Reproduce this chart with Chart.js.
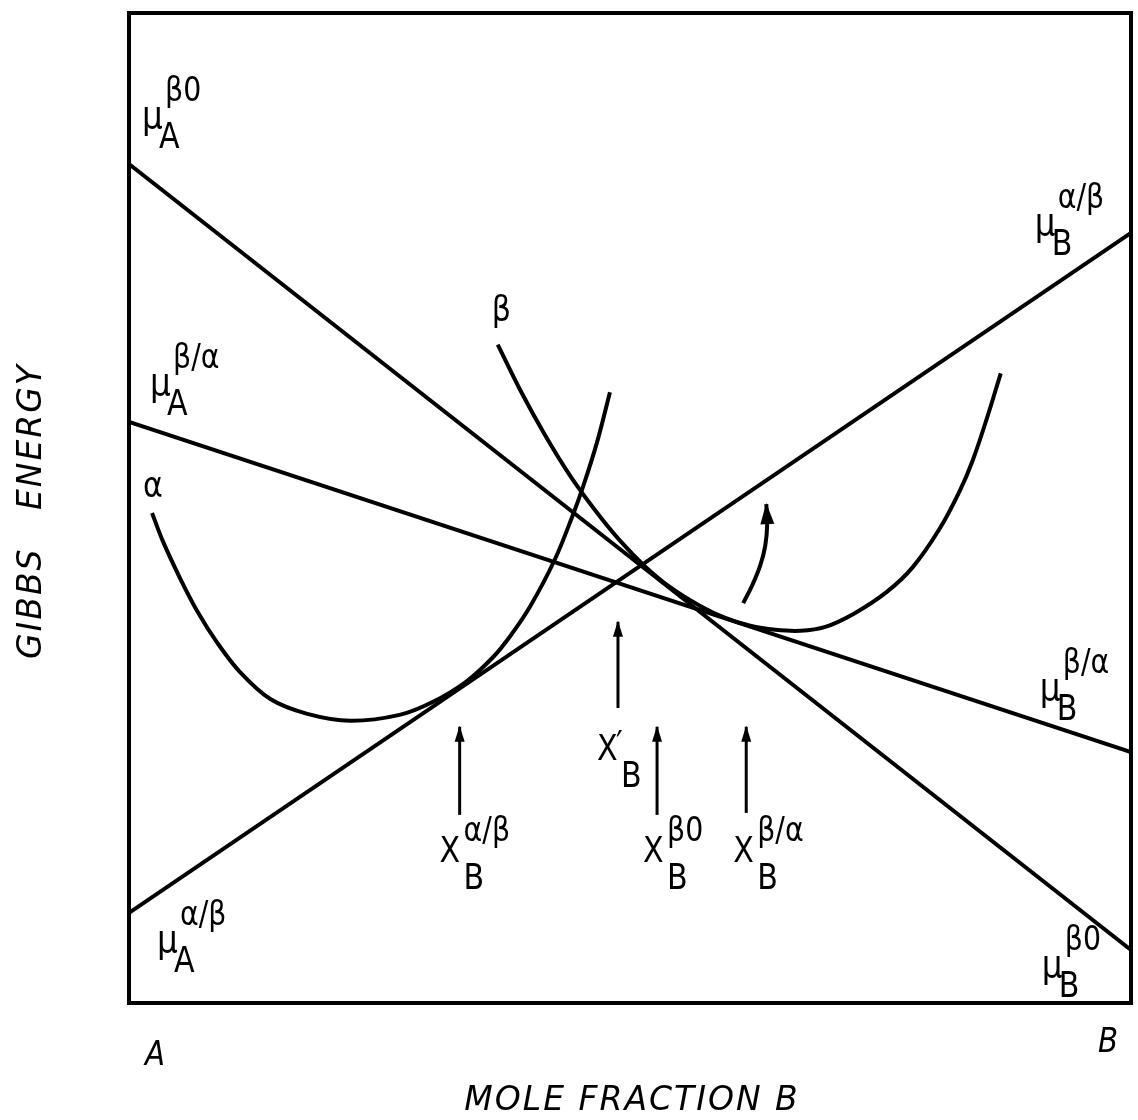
<!DOCTYPE html>
<html lang="en">
<head>
<meta charset="UTF-8">
<title>Gibbs energy - composition</title>
<script src="https://cdn.jsdelivr.net/npm/chart.js"></script>
<style>
  html, body { margin: 0; padding: 0; background: #fff; }
  .chart-container { position: relative; width: 1138px; height: 1120px; }
</style>
</head>
<body>
<div class="chart-container"><canvas id="gibbs"></canvas></div>
<script>
// x = mole fraction of B (0 = pure A, 1 = pure B), g = Gibbs energy (arbitrary units)

// alpha phase free-energy curve
const alphaX = [0.023, 0.034, 0.051, 0.068, 0.088, 0.111, 0.141, 0.178, 0.221, 0.270,
                0.303, 0.337, 0.363, 0.380, 0.400, 0.425, 0.443, 0.453, 0.467, 0.480];
const alphaG = [0.495, 0.466, 0.429, 0.396, 0.364, 0.334, 0.307, 0.292, 0.285, 0.291,
                0.304, 0.325, 0.349, 0.370, 0.400, 0.448, 0.493, 0.521, 0.566, 0.617];

// beta phase free-energy curve
const betaX = [0.368, 0.390, 0.415, 0.440, 0.465, 0.490, 0.515, 0.540, 0.570, 0.595, 0.620,
               0.645, 0.670, 0.695, 0.723, 0.756, 0.782, 0.809, 0.829, 0.842, 0.856, 0.870];
const betaG = [0.665, 0.620, 0.574, 0.533, 0.498, 0.467, 0.441, 0.420, 0.401, 0.389, 0.381,
               0.377, 0.376, 0.380, 0.393, 0.415, 0.440, 0.479, 0.517, 0.548, 0.590, 0.636];

// tangent lines, values at pure A (x=0) and pure B (x=1)
const edgeX = [0, 1];
const tangentBeta0 = [0.8475, 0.0535];     // mu_A^b0 -> mu_B^b0
const tangentBetaAlpha = [0.587, 0.2535];  // mu_A^b/a -> mu_B^b/a
const tangentAlphaBeta = [0.091, 0.778];   // mu_A^a/b -> mu_B^a/b

// composition markers (vertical arrows)
const markerX = [0.330, 0.488, 0.527, 0.616];
const markerFrom = [0.190, 0.298, 0.190, 0.192];
const markerTo = [0.279, 0.385, 0.279, 0.279];

// curved arrow
const shiftX = [0.613, 0.622, 0.630, 0.635, 0.637, 0.636];
const shiftG = [0.404, 0.422, 0.442, 0.462, 0.485, 0.504];

// text labels: base, subscript, superscript, anchor (x, g)
const labelBase = ['μ', 'μ', 'μ', 'μ', 'μ', 'μ', 'X', 'X', 'X', 'X', 'α', 'β'];
const labelSub  = ['A', 'A', 'A', 'B', 'B', 'B', 'B', 'B', 'B', 'B', '', ''];
const labelSup  = ['β0', 'β/α', 'α/β', 'α/β', 'β/α', 'β0', 'α/β', '′', 'β0', 'β/α', '', ''];
const labelX    = [0.013, 0.021, 0.028, 0.904, 0.909, 0.911, 0.310, 0.467, 0.513, 0.603, 0.014, 0.362];
const labelG    = [0.884, 0.614, 0.052, 0.776, 0.306, 0.026, 0.142, 0.245, 0.142, 0.142, 0.511, 0.689];

const pts = (xs, ys) => xs.map((x, i) => ({ x: x, y: ys[i] }));

const black = '#000';
const lineSet = (data, width, extra) => Object.assign({
    data: data,
    showLine: true,
    borderColor: black,
    borderWidth: width,
    pointRadius: 0,
    fill: false
}, extra || {});

const smooth = { tension: 0.35 };

const datasets = [
    lineSet(pts(edgeX, tangentBeta0), 4),
    lineSet(pts(edgeX, tangentBetaAlpha), 4),
    lineSet(pts(edgeX, tangentAlphaBeta), 4),
    lineSet(pts(alphaX, alphaG), 4, smooth),
    lineSet(pts(betaX, betaG), 4, smooth),
    lineSet(pts(shiftX, shiftG), 4, { tension: 0.4, arrow: true })
];
markerX.forEach((x, i) => {
    datasets.push(lineSet([{ x: x, y: markerFrom[i] }, { x: x, y: markerTo[i] }], 3, { arrow: true }));
});

function drawText(ctx, str, px, py, size, italic) {
    ctx.save();
    ctx.translate(px, py);
    ctx.scale(0.86, 1);
    ctx.font = (italic ? 'italic ' : '') + size + 'px "DejaVu Sans"';
    ctx.fillText(str, 0, 0);
    ctx.restore();
}

const decorations = {
    id: 'decorations',
    afterDatasetsDraw(chart) {
        const ctx = chart.ctx;
        const area = chart.chartArea;
        const xs = chart.scales.x, ys = chart.scales.y;

        // frame
        ctx.save();
        ctx.strokeStyle = black;
        ctx.lineWidth = 4;
        ctx.strokeRect(area.left, area.top, area.right - area.left, area.bottom - area.top);

        // arrow heads
        ctx.fillStyle = black;
        chart.data.datasets.forEach(ds => {
            if (!ds.arrow) return;
            const n = ds.data.length;
            const a = ds.data[n - 2], b = ds.data[n - 1];
            const x1 = xs.getPixelForValue(a.x), y1 = ys.getPixelForValue(a.y);
            const x2 = xs.getPixelForValue(b.x), y2 = ys.getPixelForValue(b.y);
            const ang = Math.atan2(y2 - y1, x2 - x1);
            const len = ds.borderWidth > 3 ? 20 : 15, half = ds.borderWidth > 3 ? 7 : 5;
            ctx.save();
            ctx.translate(x2, y2);
            ctx.rotate(ang);
            ctx.beginPath();
            ctx.moveTo(1, 0);
            ctx.lineTo(-len, -half);
            ctx.lineTo(-len, half);
            ctx.closePath();
            ctx.fill();
            ctx.restore();
        });

        // symbols
        ctx.textBaseline = 'alphabetic';
        labelBase.forEach((base, i) => {
            const px = xs.getPixelForValue(labelX[i]);
            const py = ys.getPixelForValue(labelG[i]);
            const isMu = base === 'μ';
            drawText(ctx, base, px, py, isMu ? 38 : 35);
            if (labelSub[i]) {
                drawText(ctx, labelSub[i], px + (isMu ? 17 : 24), py + (isMu ? 20 : 27), 35);
            }
            if (labelSup[i] === '′') {
                drawText(ctx, labelSup[i], px + 19, py - 4, 35);
            } else if (labelSup[i]) {
                drawText(ctx, labelSup[i], px + (isMu ? 23 : 24), py + (isMu ? -27 : -21), 33);
            }
        });

        // pure components
        drawText(ctx, 'A', xs.getPixelForValue(0.016), ys.getPixelForValue(-0.063), 34, true);
        drawText(ctx, 'B', xs.getPixelForValue(0.967), ys.getPixelForValue(-0.049), 34, true);

        // axis titles
        ctx.letterSpacing = '2px';
        ctx.font = 'italic 33px "DejaVu Sans"';
        ctx.textAlign = 'center';
        ctx.fillText('MOLE FRACTION B', (area.left + area.right) / 2 + 2, 1110);
        ctx.translate(41, (area.top + area.bottom) / 2 + 3);
        ctx.rotate(-Math.PI / 2);
        ctx.fillText('GIBBS   ENERGY', 0, 0);
        ctx.restore();
    }
};

new Chart(document.getElementById('gibbs'), {
    type: 'scatter',
    data: { datasets: datasets },
    options: {
        responsive: true,
        maintainAspectRatio: false,
        animation: false,
        layout: { padding: { left: 129, right: 7, top: 13, bottom: 117 } },
        scales: {
            x: { type: 'linear', min: 0, max: 1, display: false },
            y: { type: 'linear', min: 0, max: 1, display: false }
        },
        plugins: {
            legend: { display: false },
            tooltip: { enabled: false }
        }
    },
    plugins: [decorations]
});
</script>
</body>
</html>
